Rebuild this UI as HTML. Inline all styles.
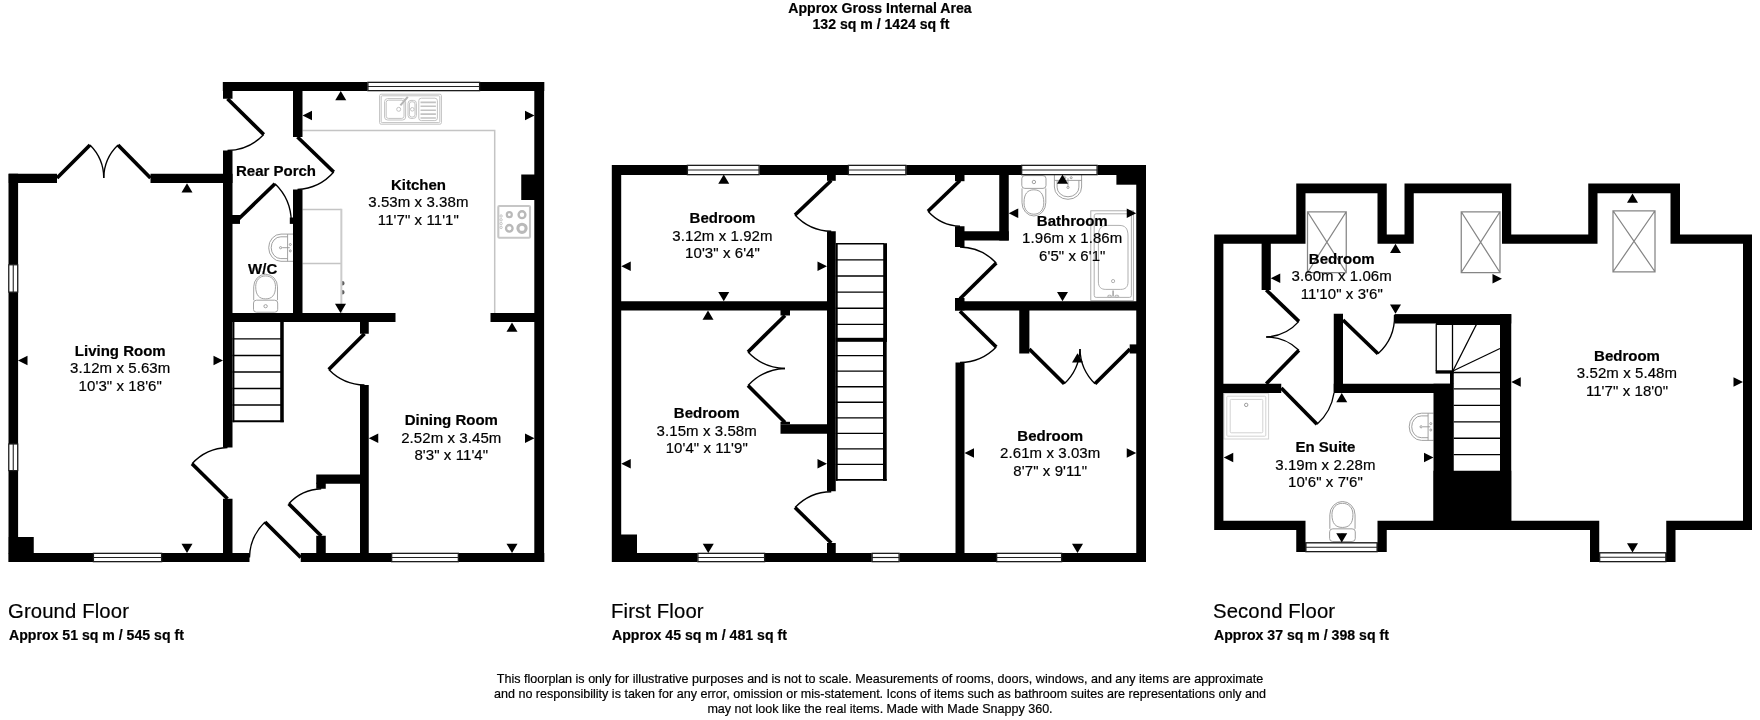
<!DOCTYPE html>
<html lang="en"><head><meta charset="utf-8"><title>Floorplan</title>
<style>
html,body{margin:0;padding:0;background:#fff;}
body{width:1760px;height:720px;overflow:hidden;position:relative;font-family:"Liberation Sans",sans-serif;color:#000;}
svg{position:absolute;left:0;top:0;display:block;will-change:transform;}
svg text{font-family:"Liberation Sans",sans-serif;font-size:15px;text-anchor:middle;fill:#000;stroke:#000;stroke-width:0.2px;}
svg text.b{font-weight:bold;}
svg text.r{letter-spacing:0.08px;}
.t{position:absolute;white-space:nowrap;line-height:1;color:#000;-webkit-text-stroke:0.2px #000;will-change:transform;}
.title{left:0;width:1760px;text-align:center;font-weight:bold;font-size:14.08px;}
.fl{font-size:20.3px;letter-spacing:0.13px;}
.ar{font-weight:bold;font-size:14.12px;}
.ft{left:0;width:1760px;text-align:center;font-size:12.56px;}
</style></head><body>
<svg width="1760" height="720" viewBox="0 0 1760 720">
<g id="ground">
<path d="M302.5 130.5H494.7V313M302.5 209.5H341.4M302.5 263.4H341.4" fill="none" stroke="#c4c4c4" stroke-width="1.5"/>
<path d="M341.35 208.8V313" fill="none" stroke="#cbcbcb" stroke-width="2"/>
<path d="M342.3 281a2.3 2.3 0 0 1 0 4.6zM342.3 289.9a2.3 2.3 0 0 1 0 4.6z" fill="#606060"/>
<g fill="none" stroke="#c2c2c2" stroke-width="1"><rect x="379.6" y="94.2" width="61.8" height="30" rx="1.5"/><rect x="381.2" y="95.8" width="58.6" height="26.8" rx="1"/><rect x="384.6" y="98.6" width="21" height="21.4" rx="3"/><rect x="386.2" y="100.2" width="17.8" height="18.2" rx="2.2"/><rect x="408" y="100.4" width="8.4" height="18" rx="3"/><rect x="409.4" y="101.8" width="5.6" height="15.2" rx="2.2"/><rect x="418.8" y="98.2" width="18.6" height="22.4" rx="2.5"/><path d="M420.5 102.4h15.4M420.5 106.3h15.4M420.5 110.2h15.4M420.5 114.1h15.4M420.5 118h15.4" stroke-width="1.6"/><circle cx="398.7" cy="109.3" r="2"/><circle cx="412.3" cy="109.3" r="1.8"/><path d="M400.4 105.3L407.8 96.8" stroke-width="2" stroke="#b4b4b4"/></g>
<g fill="none" stroke="#b9b9b9"><rect x="498.3" y="206" width="31.7" height="31.7" rx="1" stroke-width="2.1" stroke="#c6c6c6"/><circle cx="509.3" cy="214.7" r="2.5" stroke-width="2.2"/><circle cx="522" cy="214.7" r="3.4" stroke-width="2.4"/><circle cx="509.3" cy="228.3" r="3.3" stroke-width="2.3"/><circle cx="522" cy="228.3" r="4.1" stroke-width="3.1"/><circle cx="501.1" cy="216" r="1.2" stroke-width="0.8"/><circle cx="501.1" cy="219.8" r="1.2" stroke-width="0.8"/><circle cx="501.1" cy="223.6" r="1.2" stroke-width="0.8"/><circle cx="501.1" cy="227.4" r="1.2" stroke-width="0.8"/></g>
<g transform="translate(293,233.9) rotate(90)" fill="none" stroke="#969696" stroke-width="0.9"><path d="M0.2 0V12a13.6 12.3 0 0 0 27.2 0V0"/><path d="M0.2 5.4H27.4"/><path d="M2.9 5.4V12.2a10.9 9.6 0 0 0 21.8 0V5.4"/><path d="M13.8 3.2v7.6"/><circle cx="13.8" cy="12.4" r="1.1"/><circle cx="10.6" cy="2.7" r="1"/><circle cx="17" cy="2.7" r="1"/></g>
<g transform="translate(253.2,312.6) scale(1,-0.94)" fill="none" stroke="#969696" stroke-width="0.9"><rect x="0.3" y="0.4" width="24.2" height="12.8" rx="3"/><path d="M0.5 13.2V27.4a11.9 13.4 0 0 0 23.8 0V13.2"/><path d="M2.5 27.6C2.5 18.6 6 14.6 12.4 14.6S22.3 18.6 22.3 27.6C22.3 34.6 18.2 39 12.4 39S2.5 34.6 2.5 27.6z"/><circle cx="12.4" cy="6.8" r="1.7"/></g>
<g fill="#000">
<rect x="8.5" y="173.75" width="9.6" height="388.25" fill="#000"/>
<rect x="8.75" y="173.75" width="48.25" height="9.25" fill="#000"/>
<rect x="150.5" y="173.75" width="82" height="9.25" fill="#000"/>
<rect x="8.75" y="553" width="84.25" height="9" fill="#000"/>
<rect x="162" y="553" width="87.5" height="9" fill="#000"/>
<rect x="300.75" y="553" width="90.5" height="9" fill="#000"/>
<rect x="458.75" y="553" width="85.5" height="9" fill="#000"/>
<rect x="8.75" y="537" width="25" height="17" fill="#000"/>
<rect x="223" y="82" width="9.5" height="16.75" fill="#000"/>
<rect x="223" y="150.5" width="9.5" height="297" fill="#000"/>
<rect x="223" y="498.75" width="9.5" height="55.25" fill="#000"/>
<rect x="222.8" y="82" width="144.7" height="9" fill="#000"/>
<rect x="480" y="82" width="64.25" height="9" fill="#000"/>
<rect x="534.3" y="82" width="9.8" height="480" fill="#000"/>
<rect x="521.25" y="174.5" width="14.25" height="25.5" fill="#000"/>
<rect x="293" y="82" width="9.5" height="55" fill="#000"/>
<rect x="293" y="189.5" width="9.5" height="132.5" fill="#000"/>
<rect x="231.5" y="215" width="8.5" height="8.9" fill="#000"/>
<rect x="289.8" y="217.5" width="4.2" height="6.4" fill="#000"/>
<rect x="223" y="313" width="172.5" height="9" fill="#000"/>
<rect x="490.5" y="313" width="45" height="9" fill="#000"/>
<rect x="360" y="321" width="8.75" height="12.75" fill="#000"/>
<rect x="360" y="385" width="8.75" height="169" fill="#000"/>
<rect x="316.25" y="474.5" width="44.75" height="9.25" fill="#000"/>
<rect x="316.25" y="482.75" width="9.5" height="6" fill="#000"/>
<rect x="316.25" y="535.75" width="9.5" height="18.25" fill="#000"/>
<rect x="280.2" y="322" width="3.55" height="100.2" fill="#000"/>
<rect x="232.5" y="322" width="1.9" height="100.2" fill="#000"/>
</g>
<line x1="232.5" y1="338.8" x2="281" y2="338.8" stroke="#000" stroke-width="1.35"/>
<line x1="232.5" y1="355.5" x2="281" y2="355.5" stroke="#000" stroke-width="1.35"/>
<line x1="232.5" y1="372" x2="281" y2="372" stroke="#000" stroke-width="1.35"/>
<line x1="232.5" y1="388.5" x2="281" y2="388.5" stroke="#000" stroke-width="1.35"/>
<line x1="232.5" y1="405" x2="281" y2="405" stroke="#000" stroke-width="1.35"/>
<line x1="232.5" y1="421.2" x2="283.75" y2="421.2" stroke="#000" stroke-width="2"/>
<rect x="367.9" y="82.35" width="111.7" height="8.3" fill="#fff" stroke="#1c1c1c" stroke-width="1.3"/>
<line x1="367.5" y1="86.5" x2="480" y2="86.5" stroke="#222" stroke-width="1.15"/>
<rect x="93.4" y="553.35" width="68.2" height="8.3" fill="#fff" stroke="#1c1c1c" stroke-width="1.3"/>
<line x1="93" y1="557.5" x2="162" y2="557.5" stroke="#222" stroke-width="1.15"/>
<rect x="391.65" y="553.35" width="66.7" height="8.3" fill="#fff" stroke="#1c1c1c" stroke-width="1.3"/>
<line x1="391.25" y1="557.5" x2="458.75" y2="557.5" stroke="#222" stroke-width="1.15"/>
<rect x="8.8" y="264.8" width="8.9" height="27.3" fill="#fff" stroke="#1c1c1c" stroke-width="1.2"/>
<line x1="13.25" y1="264.4" x2="13.25" y2="292.5" stroke="#222" stroke-width="1.1"/>
<rect x="8.8" y="444" width="8.9" height="26.6" fill="#fff" stroke="#1c1c1c" stroke-width="1.2"/>
<line x1="13.25" y1="443.6" x2="13.25" y2="471" stroke="#222" stroke-width="1.1"/>
<path d="M263.75 134.5A51.33 51.33 0 0 1 227.5 150.5" fill="none" stroke="#000" stroke-width="1.35"/>
<line x1="227.5" y1="98.75" x2="263.75" y2="134.5" stroke="#000" stroke-width="3.7" stroke-linecap="butt"/>
<path d="M333.75 172A51.44 51.44 0 0 1 297.5 189.5" fill="none" stroke="#000" stroke-width="1.35"/>
<line x1="297.5" y1="137" x2="333.75" y2="172" stroke="#000" stroke-width="3.7" stroke-linecap="butt"/>
<path d="M275 183.75A52.97 52.97 0 0 1 291.25 222" fill="none" stroke="#000" stroke-width="1.35"/>
<line x1="237.5" y1="220" x2="275" y2="183.75" stroke="#000" stroke-width="3.7" stroke-linecap="butt"/>
<path d="M90 145A46.71 46.71 0 0 1 103.75 178" fill="none" stroke="#000" stroke-width="1.35"/>
<line x1="57" y1="178" x2="90" y2="145" stroke="#000" stroke-width="3.7" stroke-linecap="butt"/>
<path d="M118 145A46.53 46.53 0 0 0 103.75 178" fill="none" stroke="#000" stroke-width="1.35"/>
<line x1="150.5" y1="178" x2="118" y2="145" stroke="#000" stroke-width="3.7" stroke-linecap="butt"/>
<path d="M328.75 369.5A50.9 50.9 0 0 0 364.5 385" fill="none" stroke="#000" stroke-width="1.35"/>
<line x1="364.5" y1="333.75" x2="328.75" y2="369.5" stroke="#000" stroke-width="3.7" stroke-linecap="butt"/>
<path d="M192 463.75A50.55 50.55 0 0 1 227.5 447.5" fill="none" stroke="#000" stroke-width="1.35"/>
<line x1="227.5" y1="498.75" x2="192" y2="463.75" stroke="#000" stroke-width="3.7" stroke-linecap="butt"/>
<path d="M265 522A50.82 50.82 0 0 0 249.5 557.5" fill="none" stroke="#000" stroke-width="1.35"/>
<line x1="300.75" y1="557.5" x2="265" y2="522" stroke="#000" stroke-width="3.7" stroke-linecap="butt"/>
<path d="M288.75 503.75A46.52 46.52 0 0 1 321.25 488.75" fill="none" stroke="#000" stroke-width="1.35"/>
<line x1="321.25" y1="536" x2="288.75" y2="503.75" stroke="#000" stroke-width="3.7" stroke-linecap="butt"/>
<polygon points="187,183.2 181.5,192.5 192.5,192.5"/>
<polygon points="187,553 181.5,543.7 192.5,543.7"/>
<polygon points="18,360.5 27.5,355.7 27.5,365.3"/>
<polygon points="223,360.5 213.5,355.7 213.5,365.3"/>
<polygon points="340.75,91 335.25,100.3 346.25,100.3"/>
<polygon points="340.5,313 335,303.7 346,303.7"/>
<polygon points="302.5,115.5 312,110.7 312,120.3"/>
<polygon points="534.5,115.5 525,110.7 525,120.3"/>
<polygon points="512,322.5 506.5,331.8 517.5,331.8"/>
<polygon points="512,553 506.5,543.7 517.5,543.7"/>
<polygon points="368.75,438.25 378.25,433.45 378.25,443.05"/>
<polygon points="534.5,438.25 525,433.45 525,443.05"/>
<text x="120.25" y="355.5" class="b">Living Room</text>
<text x="120.25" y="373" class="r">3.12m x 5.63m</text>
<text x="120.25" y="390.5" class="r">10'3" x 18'6"</text>
<text x="418.4" y="189.6" class="b">Kitchen</text>
<text x="418.4" y="207.1" class="r">3.53m x 3.38m</text>
<text x="418.4" y="224.6" class="r">11'7" x 11'1"</text>
<text x="451.3" y="425" class="b">Dining Room</text>
<text x="451.3" y="442.5" class="r">2.52m x 3.45m</text>
<text x="451.3" y="460" class="r">8'3" x 11'4"</text>
<text x="276" y="175.5" class="b">Rear Porch</text>
<text x="262.7" y="273.5" class="b">W/C</text>
</g>
<g id="first">
<g transform="translate(1021.5,175.2) scale(1,1)" fill="none" stroke="#969696" stroke-width="0.9"><rect x="0.3" y="0.4" width="24.2" height="12.8" rx="3"/><path d="M0.5 13.2V27.4a11.9 13.4 0 0 0 23.8 0V13.2"/><path d="M2.5 27.6C2.5 18.6 6 14.6 12.4 14.6S22.3 18.6 22.3 27.6C22.3 34.6 18.2 39 12.4 39S2.5 34.6 2.5 27.6z"/><circle cx="12.4" cy="6.8" r="1.7"/></g>
<g transform="translate(1054.2,175) rotate(0)" fill="none" stroke="#969696" stroke-width="0.9"><path d="M0.2 0V12a13.6 12.3 0 0 0 27.2 0V0"/><path d="M0.2 5.4H27.4"/><path d="M2.9 5.4V12.2a10.9 9.6 0 0 0 21.8 0V5.4"/><path d="M13.8 3.2v7.6"/><circle cx="13.8" cy="12.4" r="1.1"/><circle cx="10.6" cy="2.7" r="1"/><circle cx="17" cy="2.7" r="1"/></g>
<g fill="none" stroke="#a6a6a6" stroke-width="0.9"><rect x="1090.8" y="210.8" width="42.6" height="89.8"/><rect x="1094.2" y="213.8" width="37.2" height="83.6" rx="2"/><path d="M1098.4 236c0-8 3-10.6 9-10.6h11.600000000000001c6 0 9 2.6 9 10.6v46c0 5-2.600000000000001 7.4-7.4 7.4h-14.8c-4.8 0-7.4-2.4-7.4-7.4z"/><circle cx="1113.1" cy="281.1" r="1.6"/><path d="M1113.1 290.5v6" stroke-width="1.6"/><ellipse cx="1109.6" cy="296.2" rx="2" ry="1"/><ellipse cx="1116.8" cy="296.2" rx="2" ry="1"/></g>
<g fill="#000">
<rect x="611.8" y="165" width="9.4" height="397" fill="#000"/>
<rect x="1136.25" y="165" width="9.75" height="397" fill="#000"/>
<rect x="612" y="165" width="75" height="10" fill="#000"/>
<rect x="759.5" y="165" width="88.5" height="10" fill="#000"/>
<rect x="906.25" y="165" width="115" height="10" fill="#000"/>
<rect x="1097.5" y="165" width="48.5" height="10" fill="#000"/>
<rect x="612" y="553" width="85.5" height="9" fill="#000"/>
<rect x="765" y="553" width="106.75" height="9" fill="#000"/>
<rect x="899.5" y="553" width="96.75" height="9" fill="#000"/>
<rect x="1062" y="553" width="83.75" height="9" fill="#000"/>
<rect x="620" y="534.5" width="17" height="19.5" fill="#000"/>
<rect x="1116.4" y="174" width="20.6" height="10.7" fill="#000"/>
<rect x="620" y="301.25" width="208" height="9.25" fill="#000"/>
<rect x="827" y="173.5" width="8.75" height="7.3" fill="#000"/>
<rect x="827" y="231.25" width="8.75" height="260" fill="#000"/>
<rect x="827" y="543" width="8.75" height="11" fill="#000"/>
<rect x="780.5" y="309.5" width="9.5" height="6" fill="#000"/>
<rect x="780.5" y="424.25" width="47.5" height="9.5" fill="#000"/>
<rect x="780.5" y="421.8" width="9.5" height="2.45" fill="#000"/>
<rect x="955" y="173.5" width="9.5" height="7.7" fill="#000"/>
<rect x="955" y="226.25" width="9.5" height="20.75" fill="#000"/>
<rect x="955" y="231.25" width="53.75" height="9.25" fill="#000"/>
<rect x="999.25" y="173.5" width="9.5" height="67" fill="#000"/>
<rect x="955" y="301.25" width="182" height="9.25" fill="#000"/>
<rect x="955" y="298" width="9.5" height="12.5" fill="#000"/>
<rect x="955.5" y="362.5" width="9" height="191.5" fill="#000"/>
<rect x="1019.25" y="309.5" width="10.15" height="44" fill="#000"/>
<rect x="1129.7" y="344.4" width="7.3" height="9.1" fill="#000"/>
<rect x="883.2" y="243.2" width="3.8" height="98.6" fill="#000"/>
<rect x="835.75" y="337.8" width="51.25" height="4" fill="#000"/>
<rect x="883" y="341" width="3.7" height="139.8" fill="#000"/>
<rect x="835.75" y="243.2" width="1.95" height="237.6" fill="#000"/>
</g>
<line x1="835.75" y1="243.75" x2="884" y2="243.75" stroke="#000" stroke-width="1.35"/>
<line x1="835.75" y1="259.9" x2="884" y2="259.9" stroke="#000" stroke-width="1.35"/>
<line x1="835.75" y1="276" x2="884" y2="276" stroke="#000" stroke-width="1.35"/>
<line x1="835.75" y1="292.1" x2="884" y2="292.1" stroke="#000" stroke-width="1.35"/>
<line x1="835.75" y1="308.2" x2="884" y2="308.2" stroke="#000" stroke-width="1.35"/>
<line x1="835.75" y1="324.3" x2="884" y2="324.3" stroke="#000" stroke-width="1.35"/>
<line x1="835.75" y1="355.6" x2="884" y2="355.6" stroke="#000" stroke-width="1.35"/>
<line x1="835.75" y1="371.1" x2="884" y2="371.1" stroke="#000" stroke-width="1.35"/>
<line x1="835.75" y1="386.7" x2="884" y2="386.7" stroke="#000" stroke-width="1.35"/>
<line x1="835.75" y1="402.2" x2="884" y2="402.2" stroke="#000" stroke-width="1.35"/>
<line x1="835.75" y1="417.8" x2="884" y2="417.8" stroke="#000" stroke-width="1.35"/>
<line x1="835.75" y1="433.3" x2="884" y2="433.3" stroke="#000" stroke-width="1.35"/>
<line x1="835.75" y1="448.9" x2="884" y2="448.9" stroke="#000" stroke-width="1.35"/>
<line x1="835.75" y1="464.4" x2="884" y2="464.4" stroke="#000" stroke-width="1.35"/>
<line x1="835.75" y1="479.9" x2="886.7" y2="479.9" stroke="#000" stroke-width="1.8"/>
<rect x="687.4" y="165.35" width="71.7" height="9.3" fill="#fff" stroke="#1c1c1c" stroke-width="1.3"/>
<line x1="687" y1="170" x2="759.5" y2="170" stroke="#222" stroke-width="1.15"/>
<rect x="848.4" y="165.35" width="57.45" height="9.3" fill="#fff" stroke="#1c1c1c" stroke-width="1.3"/>
<line x1="848" y1="170" x2="906.25" y2="170" stroke="#222" stroke-width="1.15"/>
<rect x="1021.65" y="165.35" width="75.45" height="9.3" fill="#fff" stroke="#1c1c1c" stroke-width="1.3"/>
<line x1="1021.25" y1="170" x2="1097.5" y2="170" stroke="#222" stroke-width="1.15"/>
<rect x="697.9" y="553.35" width="66.7" height="8.3" fill="#fff" stroke="#1c1c1c" stroke-width="1.3"/>
<line x1="697.5" y1="557.5" x2="765" y2="557.5" stroke="#222" stroke-width="1.15"/>
<rect x="872.15" y="553.35" width="26.95" height="8.3" fill="#fff" stroke="#1c1c1c" stroke-width="1.3"/>
<line x1="871.75" y1="557.5" x2="899.5" y2="557.5" stroke="#222" stroke-width="1.15"/>
<rect x="996.65" y="553.35" width="64.95" height="8.3" fill="#fff" stroke="#1c1c1c" stroke-width="1.3"/>
<line x1="996.25" y1="557.5" x2="1062" y2="557.5" stroke="#222" stroke-width="1.15"/>
<path d="M795 215A50.4 50.4 0 0 0 831.25 231.25" fill="none" stroke="#000" stroke-width="1.35"/>
<line x1="831.25" y1="180.5" x2="795" y2="215" stroke="#000" stroke-width="3.7" stroke-linecap="butt"/>
<path d="M928 211.25A45.06 45.06 0 0 0 960 226.25" fill="none" stroke="#000" stroke-width="1.35"/>
<line x1="960" y1="180.5" x2="928" y2="211.25" stroke="#000" stroke-width="3.7" stroke-linecap="butt"/>
<path d="M996.25 263A51.33 51.33 0 0 0 960 247" fill="none" stroke="#000" stroke-width="1.35"/>
<line x1="960" y1="298.75" x2="996.25" y2="263" stroke="#000" stroke-width="3.7" stroke-linecap="butt"/>
<path d="M996.25 347A51.08 51.08 0 0 1 960 362.5" fill="none" stroke="#000" stroke-width="1.35"/>
<line x1="960" y1="311.25" x2="996.25" y2="347" stroke="#000" stroke-width="3.7" stroke-linecap="butt"/>
<path d="M795 507.5A50.99 50.99 0 0 1 831.25 491.75" fill="none" stroke="#000" stroke-width="1.35"/>
<line x1="831.25" y1="543" x2="795" y2="507.5" stroke="#000" stroke-width="3.7" stroke-linecap="butt"/>
<path d="M748 352A52.49 52.49 0 0 0 785 368.5" fill="none" stroke="#000" stroke-width="1.35"/>
<line x1="785" y1="315.5" x2="748" y2="352" stroke="#000" stroke-width="3.7" stroke-linecap="butt"/>
<path d="M748 385.5A53.16 53.16 0 0 1 785 368.5" fill="none" stroke="#000" stroke-width="1.35"/>
<line x1="785" y1="422.5" x2="748" y2="385.5" stroke="#000" stroke-width="3.7" stroke-linecap="butt"/>
<path d="M1064.25 383.75A50.04 50.04 0 0 0 1080 349" fill="none" stroke="#000" stroke-width="1.35"/>
<line x1="1029.25" y1="349" x2="1064.25" y2="383.75" stroke="#000" stroke-width="3.7" stroke-linecap="butt"/>
<path d="M1095 383.75A49.66 49.66 0 0 1 1080 349" fill="none" stroke="#000" stroke-width="1.35"/>
<line x1="1130" y1="349" x2="1095" y2="383.75" stroke="#000" stroke-width="3.7" stroke-linecap="butt"/>
<polygon points="723.75,174.5 718.25,183.8 729.25,183.8"/>
<polygon points="723.75,301.25 718.25,291.95 729.25,291.95"/>
<polygon points="621.25,266.25 630.75,261.45 630.75,271.05"/>
<polygon points="827,266.25 817.5,261.45 817.5,271.05"/>
<polygon points="708,310.5 702.5,319.8 713.5,319.8"/>
<polygon points="708.25,553 702.75,543.7 713.75,543.7"/>
<polygon points="621.25,463.75 630.75,458.95 630.75,468.55"/>
<polygon points="827,463.75 817.5,458.95 817.5,468.55"/>
<polygon points="1062.5,174.5 1057,183.8 1068,183.8"/>
<polygon points="1062.5,301.25 1057,291.95 1068,291.95"/>
<polygon points="1008.75,213.25 1018.25,208.45 1018.25,218.05"/>
<polygon points="1136.25,213.25 1126.75,208.45 1126.75,218.05"/>
<polygon points="1077.5,353.3 1072,362.6 1083,362.6"/>
<polygon points="1077.5,553 1072,543.7 1083,543.7"/>
<polygon points="964.5,453 974,448.2 974,457.8"/>
<polygon points="1136.25,453 1126.75,448.2 1126.75,457.8"/>
<text x="722.5" y="223" class="b">Bedroom</text>
<text x="722.5" y="240.5" class="r">3.12m x 1.92m</text>
<text x="722.5" y="258" class="r">10'3" x 6'4"</text>
<text x="706.75" y="418" class="b">Bedroom</text>
<text x="706.75" y="435.5" class="r">3.15m x 3.58m</text>
<text x="706.75" y="453" class="r">10'4" x 11'9"</text>
<text x="1072.25" y="225.5" class="b">Bathroom</text>
<text x="1072.25" y="243" class="r">1.96m x 1.86m</text>
<text x="1072.25" y="260.5" class="r">6'5" x 6'1"</text>
<text x="1050.25" y="440.75" class="b">Bedroom</text>
<text x="1050.25" y="458.25" class="r">2.61m x 3.03m</text>
<text x="1050.25" y="475.75" class="r">8'7" x 9'11"</text>
</g>
<g id="second">
<path d="M1307.5 211.75H1346.25V272.5H1307.5ZM1307.5 211.75L1346.25 272.5M1346.25 211.75L1307.5 272.5" fill="none" stroke="#858585" stroke-width="1.25"/>
<path d="M1461.25 211.75H1500V272.5H1461.25ZM1461.25 211.75L1500 272.5M1500 211.75L1461.25 272.5" fill="none" stroke="#858585" stroke-width="1.25"/>
<path d="M1613 210.75H1655V271.75H1613ZM1613 210.75L1655 271.75M1655 210.75L1613 271.75" fill="none" stroke="#858585" stroke-width="1.25"/>
<g fill="none" stroke="#d2d2d2" stroke-width="1"><rect x="1224" y="393.6" width="44.6" height="45.4"/><rect x="1226.8" y="396.2" width="39" height="40" rx="1"/><rect x="1230.2" y="399.4" width="32.6" height="33.4" rx="1"/><circle cx="1246.2" cy="404.9" r="1.7" stroke="#9a9a9a"/></g>
<g transform="translate(1433.5,413) rotate(90)" fill="none" stroke="#969696" stroke-width="0.9"><path d="M0.2 0V12a13.6 12.3 0 0 0 27.2 0V0"/><path d="M0.2 5.4H27.4"/><path d="M2.9 5.4V12.2a10.9 9.6 0 0 0 21.8 0V5.4"/><path d="M13.8 3.2v7.6"/><circle cx="13.8" cy="12.4" r="1.1"/><circle cx="10.6" cy="2.7" r="1"/><circle cx="17" cy="2.7" r="1"/></g>
<g transform="translate(1329.3,541.9) scale(1.06,-0.99)" fill="none" stroke="#969696" stroke-width="0.9"><rect x="0.3" y="0.4" width="24.2" height="12.8" rx="3"/><path d="M0.5 13.2V27.4a11.9 13.4 0 0 0 23.8 0V13.2"/><path d="M2.5 27.6C2.5 18.6 6 14.6 12.4 14.6S22.3 18.6 22.3 27.6C22.3 34.6 18.2 39 12.4 39S2.5 34.6 2.5 27.6z"/><circle cx="12.4" cy="6.8" r="1.7"/></g>
<path d="M1214.2 234.5L1296.25 234.5L1296.25 183.6L1386.75 183.6L1386.75 234.5L1404.5 234.5L1404.5 183.6L1511.25 183.6L1511.25 234.5L1588.25 234.5L1588.25 183.6L1680 183.6L1680 234.5L1752 234.5L1752 530L1675.5 530L1675.5 562L1590 562L1590 530L1386.75 530L1386.75 552L1296.25 552L1296.25 530L1214.2 530ZM1223.4 243.75L1305.5 243.75L1305.5 193.3L1377.5 193.3L1377.5 243.75L1413.75 243.75L1413.75 193.3L1502 193.3L1502 243.75L1597.5 243.75L1597.5 193.3L1670.5 193.3L1670.5 243.75L1743 243.75L1743 520.75L1666.25 520.75L1666.25 552.5L1599.25 552.5L1599.25 520.75L1377.5 520.75L1377.5 542.5L1305.5 542.5L1305.5 520.75L1223.4 520.75Z" fill="#000" fill-rule="evenodd"/>
<g fill="#000">
<rect x="1261.6" y="242" width="9.2" height="48" fill="#000"/>
<rect x="1222" y="383.75" width="59.25" height="9.25" fill="#000"/>
<rect x="1333.75" y="313.75" width="9.25" height="79.25" fill="#000"/>
<rect x="1333.75" y="383.75" width="116.25" height="9.25" fill="#000"/>
<rect x="1433.5" y="383.75" width="20.25" height="146.25" fill="#000"/>
<rect x="1450" y="371" width="3.75" height="13" fill="#000"/>
<rect x="1394.5" y="314.1" width="116.75" height="9.4" fill="#000"/>
<rect x="1500" y="314.1" width="11.25" height="215.9" fill="#000"/>
<rect x="1433.5" y="470.75" width="77.75" height="59.25" fill="#000"/>
<rect x="1435.6" y="370.3" width="18.15" height="3.3" fill="#000"/>
<rect x="1436" y="323" width="64" height="2" fill="#000"/>
</g>
<line x1="1436.25" y1="323.75" x2="1436.25" y2="371" stroke="#000" stroke-width="1.3"/>
<line x1="1452.5" y1="323.75" x2="1452.5" y2="371" stroke="#000" stroke-width="1.3"/>
<line x1="1452.9" y1="371" x2="1476.4" y2="324.5" stroke="#000" stroke-width="1.3"/>
<line x1="1452.9" y1="371" x2="1500" y2="348.5" stroke="#000" stroke-width="1.3"/>
<line x1="1453.75" y1="372.5" x2="1500" y2="372.5" stroke="#000" stroke-width="1.35"/>
<line x1="1453.75" y1="388.9" x2="1500" y2="388.9" stroke="#000" stroke-width="1.35"/>
<line x1="1453.75" y1="405.3" x2="1500" y2="405.3" stroke="#000" stroke-width="1.35"/>
<line x1="1453.75" y1="421.8" x2="1500" y2="421.8" stroke="#000" stroke-width="1.35"/>
<line x1="1453.75" y1="438.2" x2="1500" y2="438.2" stroke="#000" stroke-width="1.35"/>
<line x1="1453.75" y1="454.6" x2="1500" y2="454.6" stroke="#000" stroke-width="1.35"/>
<rect x="1305.9" y="542.85" width="71.2" height="8.8" fill="#fff" stroke="#1c1c1c" stroke-width="1.3"/>
<line x1="1305.5" y1="547.25" x2="1377.5" y2="547.25" stroke="#222" stroke-width="1.15"/>
<rect x="1599.65" y="552.85" width="66.2" height="8.8" fill="#fff" stroke="#1c1c1c" stroke-width="1.3"/>
<line x1="1599.25" y1="557.25" x2="1666.25" y2="557.25" stroke="#222" stroke-width="1.15"/>
<path d="M1298.9 321.4A46.15 46.15 0 0 1 1266.25 337" fill="none" stroke="#000" stroke-width="1.35"/>
<line x1="1266.25" y1="290" x2="1298.9" y2="321.4" stroke="#000" stroke-width="3.7" stroke-linecap="butt"/>
<path d="M1298.9 350.2A46.78 46.78 0 0 0 1266.25 337" fill="none" stroke="#000" stroke-width="1.35"/>
<line x1="1266.25" y1="383.75" x2="1298.9" y2="350.2" stroke="#000" stroke-width="3.7" stroke-linecap="butt"/>
<path d="M1317 424.25A51.95 51.95 0 0 0 1334 393" fill="none" stroke="#000" stroke-width="1.35"/>
<line x1="1281.25" y1="388" x2="1317" y2="424.25" stroke="#000" stroke-width="3.7" stroke-linecap="butt"/>
<path d="M1378 353.75A50.18 50.18 0 0 0 1394.5 315" fill="none" stroke="#000" stroke-width="1.35"/>
<line x1="1343" y1="320" x2="1378" y2="353.75" stroke="#000" stroke-width="3.7" stroke-linecap="butt"/>
<polygon points="1395.5,243.75 1390,253.05 1401,253.05"/>
<polygon points="1395.5,313.75 1390,304.45 1401,304.45"/>
<polygon points="1270.75,278.25 1280.25,273.45 1280.25,283.05"/>
<polygon points="1502,278.75 1492.5,273.95 1492.5,283.55"/>
<polygon points="1632.5,193.5 1627,202.8 1638,202.8"/>
<polygon points="1632.5,552.5 1627,543.2 1638,543.2"/>
<polygon points="1511.25,382 1520.75,377.2 1520.75,386.8"/>
<polygon points="1743,382 1733.5,377.2 1733.5,386.8"/>
<polygon points="1341.75,393 1336.25,402.3 1347.25,402.3"/>
<polygon points="1341.75,542.5 1336.25,533.2 1347.25,533.2"/>
<polygon points="1223.75,457.5 1233.25,452.7 1233.25,462.3"/>
<polygon points="1433.5,457.5 1424,452.7 1424,462.3"/>
<text x="1341.75" y="263.75" class="b">Bedroom</text>
<text x="1341.75" y="281.25" class="r">3.60m x 1.06m</text>
<text x="1341.75" y="298.75" class="r">11'10" x 3'6"</text>
<text x="1627" y="360.5" class="b">Bedroom</text>
<text x="1627" y="378" class="r">3.52m x 5.48m</text>
<text x="1627" y="395.5" class="r">11'7" x 18'0"</text>
<text x="1325.4" y="452" class="b">En Suite</text>
<text x="1325.4" y="469.5" class="r">3.19m x 2.28m</text>
<text x="1325.4" y="487" class="r">10'6" x 7'6"</text>
</g>
</svg>
<div class="t title" style="top:0.5px;left:0.4px">Approx Gross Internal Area</div>
<div class="t title" style="top:16.5px;left:0.9px">132 sq m / 1424 sq ft</div>
<div class="t fl" style="left:8.2px;top:601px">Ground Floor</div>
<div class="t ar" style="left:8.6px;top:628px">Approx 51 sq m / 545 sq ft</div>
<div class="t fl" style="left:611.2px;top:601px">First Floor</div>
<div class="t ar" style="left:611.8px;top:628px">Approx 45 sq m / 481 sq ft</div>
<div class="t fl" style="left:1213px;top:601px">Second Floor</div>
<div class="t ar" style="left:1213.6px;top:628px">Approx 37 sq m / 398 sq ft</div>
<div class="t ft" style="top:672.8px">This floorplan is only for illustrative purposes and is not to scale. Measurements of rooms, doors, windows, and any items are approximate</div>
<div class="t ft" style="top:687.7px;left:0.3px">and no responsibility is taken for any error, omission or mis-statement. Icons of items such as bathroom suites are representations only and</div>
<div class="t ft" style="top:702.6px">may not look like the real items. Made with Made Snappy 360.</div>
</body></html>
